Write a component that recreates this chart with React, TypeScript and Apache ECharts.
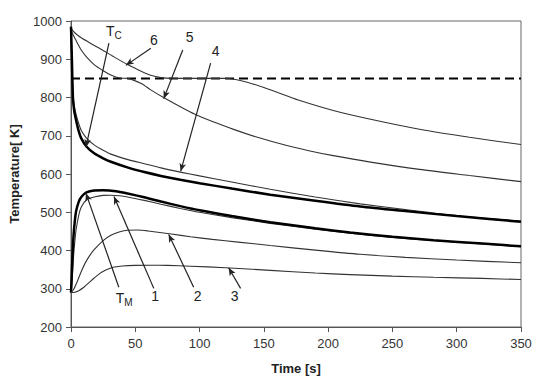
import React, { useEffect, useRef } from "react";
import * as echarts from "echarts";

// ---- data ----
const tcTime = [0, 0.7, 1.5, 2.5, 4, 6, 8, 12, 18, 25, 31, 45, 57, 70, 85, 100, 125, 155, 190, 225, 260, 300, 350];
const tcTemp = [985, 900, 800, 765, 740, 712, 693, 672, 654, 641, 632, 616, 605, 595, 585, 576, 562, 546, 530, 515, 503, 490, 475];

const c4Time = [0, 0.7, 1.5, 2.5, 4, 6, 8, 12, 18, 25, 31, 45, 57, 70, 85, 100, 125, 155, 190, 225, 260, 300, 350];
const c4Temp = [965, 880, 810, 780, 755, 732, 714, 694, 676, 662, 652, 637, 627, 616, 605, 595, 579, 560, 540, 522, 507, 491, 477];

const tmTime = [0, 0.5, 1, 2, 3, 4, 6, 8, 12, 18, 25, 35, 44, 57, 70, 85, 100, 125, 155, 190, 217, 250, 282, 320, 350];
const tmTemp = [290, 330, 375, 440, 478, 503, 527, 540, 552, 557, 557.5, 555, 549, 539, 528, 516, 505, 490, 474, 458, 447, 436, 427, 418, 411];

const c1Time = [0, 0.5, 1, 2, 3, 4, 6, 8, 12, 18, 25, 31, 38, 44, 57, 70, 85, 100, 125, 155, 190, 217, 250, 282, 320, 350];
const c1Temp = [290, 305, 328, 385, 425, 455, 492, 514, 532, 540, 544, 544.5, 543, 540, 531, 521, 510, 500, 486, 471, 456, 445, 434, 426, 417, 410];

const c2Time = [0, 2, 5, 8, 11, 14, 18, 25, 31, 38, 44, 52, 60, 78, 93, 110, 130, 155, 190, 225, 260, 300, 350];
const c2Temp = [290, 298, 320, 345, 367, 384, 402, 426, 440, 449, 453, 453.5, 451, 443, 436, 429, 422, 413, 401, 390, 382, 375, 368];

const c3Time = [0, 3, 6, 10, 14, 18, 22, 26, 30, 34, 40, 50, 62, 75, 93, 120, 155, 190, 217, 250, 282, 320, 350];
const c3Temp = [290, 291, 295, 304, 316, 328, 339, 347, 353, 357, 359.5, 361, 361.5, 361, 359, 355, 348, 341, 337, 333, 330, 327, 324];

const c5Time = [0, 1, 3, 5, 8, 12, 18, 25, 31, 38, 44, 55, 62, 72, 85, 96, 110, 127, 145, 165, 185, 204, 233, 271, 310, 350];
const c5Temp = [975, 968, 955, 942, 924, 906, 886, 870, 859, 851, 850, 836, 820, 800, 776, 757, 737, 716, 696, 677, 661, 648, 631, 612, 596, 580];

const c6Time = [0, 1, 4, 8, 15, 23, 33, 44, 55, 62, 70, 78, 120, 128, 137, 150, 165, 178, 204, 233, 271, 310, 350];
const c6Temp = [985, 976, 966, 956, 942, 927, 907, 886, 868, 858, 852, 850, 850, 847, 840, 826, 808, 792, 766, 743, 717, 696, 677];

const limitTime = [0, 350];
const limitTemp = [850, 850];

// annotation labels (rich text: {a|main}{b|subscript})
const labelTexts = ["{a|T}{b|C}", "{a|6}", "{a|5}", "{a|4}", "{a|T}{b|M}", "{a|1}", "{a|2}", "{a|3}"];
const labelTimes = [33.4, 64.4, 92.3, 112.5, 41.3, 65.5, 98.5, 127.2];
const labelTemps = [970, 949, 955.5, 920, 273, 278.5, 278.5, 278.5];

// arrows: from [t, T] to [t, T]
const arrowFrom = [[29.5, 942], [62.1, 929], [86.9, 924], [108.6, 890], [37.2, 304], [64.4, 301], [95.4, 304], [131.9, 301]];
const arrowTo = [[11.6, 670], [42.7, 884], [72.1, 797], [85.3, 607], [11.6, 550], [33.4, 541], [76, 442], [122.6, 355]];

const xTicks = { min: 0, max: 350, interval: 50 };
const yTicks = { min: 200, max: 1000, interval: 100 };

const FONT = "'Liberation Sans', Arial, Helvetica, sans-serif";

function pairs(t: number[], v: number[]) {
  return t.map((x, i) => [x, v[i]]);
}

export default function App() {
  const ref = useRef<HTMLDivElement>(null);
  useEffect(() => {
    if (!ref.current) return;
    const chart = echarts.init(ref.current, undefined, { renderer: "svg" });
    const thin = { color: "#333", width: 1.1 };
    const thick = { color: "#000", width: 2.5 };
    const mk = (name: string, t: number[], v: number[], ls: any) => ({
      name,
      type: "line",
      data: pairs(t, v),
      showSymbol: false,
      symbol: "none",
      smooth: 0.25,
      lineStyle: ls,
      itemStyle: { color: ls.color },
      silent: true,
      z: 3,
    });
    const option: any = {
      animation: false,
      textStyle: { fontFamily: FONT },
      grid: {
        left: 70,
        right: 33,
        top: 21,
        bottom: 56,
        show: true,
        borderColor: "#666",
        borderWidth: 1,
      },
      xAxis: {
        type: "value",
        ...xTicks,
        name: "Time [s]",
        nameLocation: "middle",
        nameGap: 35,
        nameTextStyle: { fontFamily: FONT, fontSize: 13, fontWeight: "bold", color: "#222" },
        axisLine: { show: true, lineStyle: { color: "#555", width: 1 } },
        axisTick: { show: true, inside: false, length: 5, lineStyle: { color: "#555" } },
        axisLabel: { fontFamily: FONT, fontSize: 13, color: "#333", margin: 10 },
        splitLine: { show: false },
      },
      yAxis: {
        type: "value",
        ...yTicks,
        name: "Temperature[ K]",
        nameLocation: "middle",
        nameGap: 50,
        nameTextStyle: { fontFamily: FONT, fontSize: 13, fontWeight: "bold", color: "#222" },
        axisLine: { show: true, lineStyle: { color: "#555", width: 1 } },
        axisTick: { show: true, inside: false, length: 5, lineStyle: { color: "#555" } },
        axisLabel: {
          fontFamily: FONT,
          fontSize: 13,
          color: "#333",
          margin: 9,
          formatter: (v: number) => String(v),
        },
        splitLine: { show: false },
      },
      series: [
        {
          name: "limit",
          type: "line",
          data: pairs(limitTime, limitTemp),
          showSymbol: false,
          symbol: "none",
          lineStyle: { color: "#000", width: 2, type: [9, 5] },
          silent: true,
          z: 2,
          markLine: {
            silent: true,
            animation: false,
            label: { show: false },
            lineStyle: { color: "#222", width: 1.2, type: "solid" },
            emphasis: { disabled: true },
            data: arrowFrom.map((f, i) => [
              { coord: f, symbol: "none" },
              { coord: arrowTo[i], symbol: "arrow", symbolSize: [5, 8] },
            ]),
          },
          markPoint: {
            silent: true,
            animation: false,
            symbol: "circle",
            symbolSize: 0,
            data: labelTexts.map((txt, i) => ({
              coord: [labelTimes[i], labelTemps[i]],
              label: {
                show: true,
                position: "inside",
                formatter: txt,
                rich: {
                  a: { fontFamily: FONT, fontSize: 14, color: "#222", lineHeight: 16, verticalAlign: "top" },
                  b: {
                    fontFamily: FONT,
                    fontSize: 10,
                    color: "#222",
                    lineHeight: 10,
                    verticalAlign: "bottom",
                    padding: [7, 0, 0, 0],
                  },
                },
              },
            })),
          },
        },
        mk("6", c6Time, c6Temp, thin),
        mk("5", c5Time, c5Temp, thin),
        mk("4", c4Time, c4Temp, thin),
        mk("Tc", tcTime, tcTemp, thick),
        mk("1", c1Time, c1Temp, thin),
        mk("TM", tmTime, tmTemp, thick),
        mk("2", c2Time, c2Temp, thin),
        mk("3", c3Time, c3Temp, thin),
      ],
    };
    chart.setOption(option);
    return () => chart.dispose();
  }, []);
  return (
    <div
      ref={ref}
      style={{ position: "fixed", left: 0, top: 0, width: 554, height: 383, background: "#fff" }}
    />
  );
}
